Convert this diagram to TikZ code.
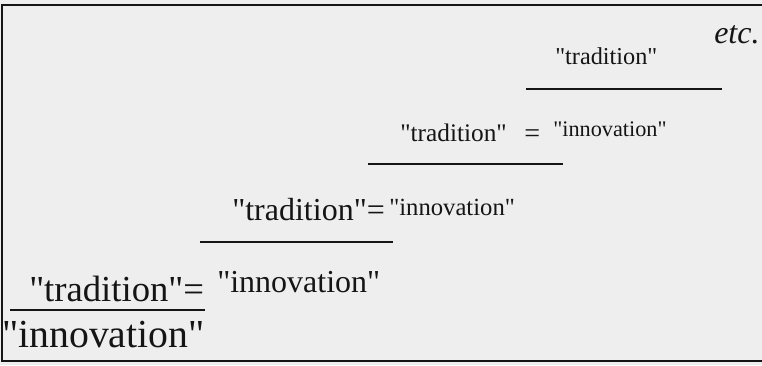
\documentclass[tikz,border=0pt]{standalone}
\usepackage{fontspec}
\setmainfont{Liberation Serif}[Ligatures=TeXOff]
\definecolor{papercolor}{HTML}{EEEEEE}
\definecolor{inkcolor}{HTML}{151515}
\newcommand{\fsz}[1]{\fontsize{#1pt}{#1pt}\selectfont}

\begin{document}
\begin{tikzpicture}[x=0.75pt,y=-0.75pt,
  word/.style={anchor=base west,inner sep=0pt,text=inkcolor},
  bar/.style={inkcolor,line width=1.7pt}]
  \useasboundingbox (0,0) rectangle (762,365);
  \fill[papercolor] (0,0) rectangle (762,365);
  \draw[inkcolor,line width=1.6pt] (762,5)--(2,5)--(2,361)--(762,361);
  % fraction bars, from the bottom step up
  \foreach \xa/\xb/\y in {10/205/310,200/393/242,368/563/164,526/722/89}{
    \draw[bar] (\xa,\y)--(\xb,\y);
  }
  % step 0
  \node[word,font=\fsz{27.5}] (trad0) at (29,301) {"tradition"=};
  \node[word,font=\fsz{29.8}] (innovb) at (2,347) {"innovation"};
  \node[word,font=\fsz{24}] (innov0) at (217,292) {"innovation"};
  % step 1
  \node[word,font=\fsz{24}] (trad1) at (232,220) {"tradition"=};
  \node[word,font=\fsz{18.5}] (innov1) at (389,215) {"innovation"};
  % step 2
  \node[word,font=\fsz{19}] (trad2) at (400,141) {"tradition"};
  \node[word,font=\fsz{21}] (eq2) at (524,142) {=};
  \node[word,font=\fsz{16.7}] (innov2) at (553,136) {"innovation"};
  % step 3
  \node[word,font=\fsz{18.2}] (trad3) at (555,64) {"tradition"};
  \node[word,font=\fsz{24}\itshape] (etc) at (714,43) {etc.};
\end{tikzpicture}
\end{document}
